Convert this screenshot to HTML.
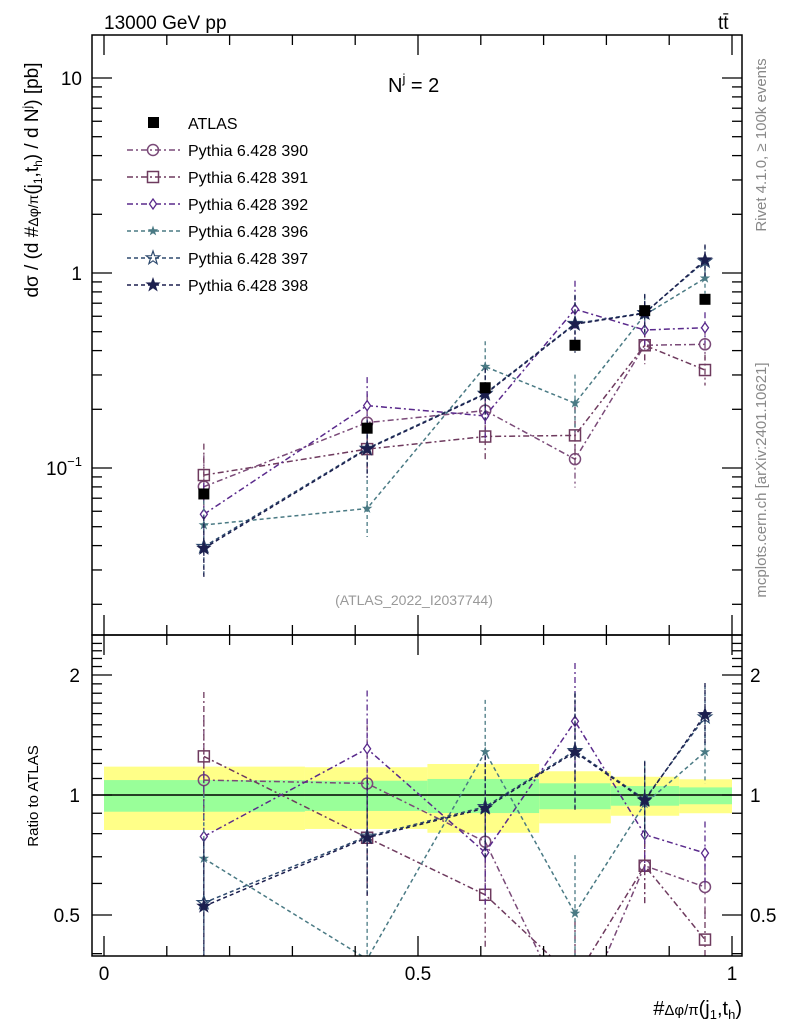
<!DOCTYPE html>
<html><head><meta charset="utf-8"><style>
html,body{margin:0;padding:0;background:#fff;width:786px;height:1024px;overflow:hidden}
svg{display:block;font-family:"Liberation Sans",sans-serif}
</style></head><body>
<svg id="chart" width="786" height="1024" viewBox="0 0 786 1024" xmlns="http://www.w3.org/2000/svg">
<defs>
<clipPath id="clipMain"><rect x="92" y="35" width="650" height="600"/></clipPath>
<clipPath id="clipRatio"><rect x="92" y="635" width="650" height="321"/></clipPath>
</defs>
<g id="bands" clip-path="url(#clipRatio)"></g>
<g id="grid"></g>
<g id="series-main" clip-path="url(#clipMain)"></g>
<g id="series-ratio" clip-path="url(#clipRatio)"></g>
<rect x="92" y="35" width="650" height="600" fill="none" stroke="#000" stroke-width="1.5"/>
<rect x="92" y="635" width="650" height="321" fill="none" stroke="#000" stroke-width="1.5"/>
<g id="axes"></g>
<g id="legend"></g>
<text x="104" y="29" font-size="19">13000 GeV pp</text>
<text x="718" y="29" font-size="19">tt̄</text>
<text x="388" y="92" font-size="20">N<tspan dy="-9" font-size="13">j</tspan><tspan dy="9"> = 2</tspan></text>
<text x="414" y="605" font-size="14" fill="#999" text-anchor="middle">(ATLAS_2022_I2037744)</text>
<text transform="translate(766,145) rotate(-90)" font-size="15" fill="#888" text-anchor="middle">Rivet 4.1.0, ≥ 100k events</text>
<text transform="translate(766,480) rotate(-90)" font-size="15" fill="#888" text-anchor="middle">mcplots.cern.ch [arXiv:2401.10621]</text>
<text transform="translate(38,180) rotate(-90)" font-size="19" text-anchor="middle">dσ / (d #<tspan font-size="14">Δφ/π</tspan>(j<tspan font-size="12" dy="4">1</tspan><tspan dy="-4">,t</tspan><tspan font-size="12" dy="4">h</tspan><tspan dy="-4">) / d N</tspan><tspan font-size="12" dy="-7">j</tspan><tspan dy="7">) [pb]</tspan></text>
<text transform="translate(38,796) rotate(-90)" font-size="15" text-anchor="middle">Ratio to ATLAS</text>
<text x="742" y="1015" font-size="20" text-anchor="end">#<tspan font-size="15">Δφ/π</tspan>(j<tspan font-size="13" dy="4">1</tspan><tspan dy="-4">,t</tspan><tspan font-size="13" dy="4">h</tspan><tspan dy="-4">)</tspan></text>
</svg>
<script>
const NS='http://www.w3.org/2000/svg';
const binEdges=[0,0.32,0.515,0.693,0.807,0.916,1.0];
const xCenters=[0.159,0.419,0.607,0.75,0.861,0.957];
const atlas=[0.0736,0.160,0.258,0.426,0.641,0.733];
const bandYellowHi=[1.178,1.174,1.196,1.147,1.111,1.095];
const bandYellowLo=[0.817,0.822,0.804,0.849,0.887,0.900];
const bandGreenHi=[1.09,1.086,1.097,1.07,1.053,1.045];
const bandGreenLo=[0.908,0.912,0.901,0.921,0.94,0.948];
const s390=[0.0802,0.171,0.197,0.111,0.426,0.431];
const s391=[0.092,0.125,0.145,0.147,0.426,0.318];
const s392=[0.0579,0.209,0.185,0.652,0.510,0.524];
const s396=[0.051,0.062,0.331,0.215,0.609,0.94];
const s397=[0.0395,0.126,0.241,0.55,0.625,1.15];
const s398=[0.0387,0.125,0.239,0.546,0.621,1.166];
const relErr=[0.45,0.4,0.35,0.4,0.25,0.2];
const seriesNames=['Pythia 6.428 390','Pythia 6.428 391','Pythia 6.428 392','Pythia 6.428 396','Pythia 6.428 397','Pythia 6.428 398'];
const seriesList=[s390,s391,s392,s396,s397,s398];
const colors=['#7a4a78','#6e3a5e','#5a2a8c','#4a7a84','#2e4a6e','#1c1f4e'];
const markers=['circle','square','diamond','smallstar','openstar','star'];
const dashes=['6,3,2,3','6,3,2,3','6,3,2,3','4,3','4,3','4,3'];
const mainTicks=[0.1,1,10];const mainTickLabels=['10','1','10'];
const ratioTicks=[0.5,1,2];const ratioTickLabels=['0.5','1','2'];
const xTicks=[0,0.5,1];const xTickLabels=['0','0.5','1'];

const X=v=>104+628*v;
const Y=v=>273-195*Math.log10(v);
const R=v=>795-398.7*Math.log10(v);
function el(tag,attrs,parent){const e=document.createElementNS(NS,tag);for(const k in attrs)e.setAttribute(k,attrs[k]);parent.appendChild(e);return e;}
const gB=document.getElementById('bands'),gA=document.getElementById('axes'),gM=document.getElementById('series-main'),gR=document.getElementById('series-ratio'),gL=document.getElementById('legend');
for(let i=0;i<6;i++){
 const x0=X(binEdges[i]),x1=X(binEdges[i+1]);
 const y=el('rect',{x:x0,y:R(bandYellowHi[i]),width:x1-x0,height:R(bandYellowLo[i])-R(bandYellowHi[i]),fill:'#ffff88'},gB);
 
 
 const g=el('rect',{x:x0,y:R(bandGreenHi[i]),width:x1-x0,height:R(bandGreenLo[i])-R(bandGreenHi[i]),fill:'#99ff99'},gB);
 
 
}
const one=el('line',{x1:92,x2:742,y1:R(1),y2:R(1),stroke:'#000','stroke-width':1.5},gB);


function tick(x1,y1,x2,y2){el('line',{x1,y1,x2,y2,stroke:'#000','stroke-width':1.3},gA);}
for(let d=-2;d<=1;d++)for(let m=1;m<10;m++){const v=m*Math.pow(10,d);const y=Y(v);if(y<35||y>635)continue;const L=m==1?20:10;tick(92,y,92+L,y);tick(742,y,742-L,y);}
mainTicks.forEach((v,i)=>{const t=el('text',{x:82,y:Y(v)+7,'font-size':19,'text-anchor':'end'},gA);t.textContent=mainTickLabels[i];if(v<1){const s=el('tspan',{dy:-9,'font-size':13},t);s.textContent='−1';}
 
 });
for(let v=0.4;v<=2.5;v+=0.1){const y=R(v);if(y<635||y>956)continue;const major=Math.abs(v-0.5)<1e-6||Math.abs(v-1)<1e-6||Math.abs(v-2)<1e-6;const L=major?20:10;tick(92,y,92+L,y);tick(742,y,742-L,y);}
ratioTicks.forEach((v,i)=>{for(const side of [0,1]){const t=el('text',{x:side?750:80,y:R(v)+7,'font-size':19,'text-anchor':side?'start':'end'},gA);t.textContent=ratioTickLabels[i];
 
 }});
for(let k=0;k<=10;k++){const x=X(k/10);const L=(k%5==0)?20:10;tick(x,956,x,956-L);tick(x,635,x,635-L);tick(x,635,x,635+L);tick(x,35,x,35+L);}
xTicks.forEach((v,i)=>{const t=el('text',{x:X(v),y:980,'font-size':19,'text-anchor':'middle'},gA);t.textContent=xTickLabels[i];
 
 });
function starPts(cx,cy,ro,ri){let p=[];for(let k=0;k<10;k++){const a=-Math.PI/2+k*Math.PI/5;const r=k%2?ri:ro;p.push((cx+r*Math.cos(a)).toFixed(1)+','+(cy+r*Math.sin(a)).toFixed(1));}return p.join(' ');}
function marker(type,cx,cy,col,parent){
 if(type=='circle')return el('circle',{cx,cy,r:5.5,fill:'#fff','fill-opacity':0,stroke:col,'stroke-width':1.5},parent);
 if(type=='square')return el('rect',{x:cx-5.5,y:cy-5.5,width:11,height:11,fill:'none',stroke:col,'stroke-width':1.5},parent);
 if(type=='diamond')return el('polygon',{points:`${cx},${cy-5} ${cx+3.5},${cy} ${cx},${cy+5} ${cx-3.5},${cy}`,fill:'#fff',stroke:col,'stroke-width':1.3},parent);
 if(type=='smallstar')return el('polygon',{points:starPts(cx,cy,5.5,2.2),fill:col},parent);
 if(type=='openstar')return el('polygon',{points:starPts(cx,cy,7,2.8),fill:'none',stroke:col,'stroke-width':1.2},parent);
 if(type=='star')return el('polygon',{points:starPts(cx,cy,8,3.2),fill:col},parent);
 if(type=='atlas')return el('rect',{x:cx-5.5,y:cy-5.5,width:11,height:11,fill:'#000'},parent);
}
function drawSeries(vals,ratio,idx,parent,Yf){
 const col=colors[idx];
 const pts=vals.map((v,i)=>X(xCenters[i]).toFixed(1)+','+Yf(ratio?v/atlas[i]:v).toFixed(1)).join(' ');
 const pl=el('polyline',{points:pts,fill:'none',stroke:col,'stroke-width':1.5,'stroke-dasharray':dashes[idx]},parent);
 
 
 vals.forEach((v,i)=>{const c=ratio?v/atlas[i]:v;const x=X(xCenters[i]);
  const eb=el('line',{x1:x,x2:x,y1:Yf(c*(1+relErr[i])),y2:Yf(c/(1+relErr[i])),stroke:col,'stroke-width':1.3,'stroke-dasharray':dashes[idx]},parent);
  
  
  const m=marker(markers[idx],x,Yf(c),col,parent);
  
  });
}
seriesList.forEach((s,i)=>{drawSeries(s,false,i,gM,Y);drawSeries(s,true,i,gR,R);});
atlas.forEach((v,i)=>{const m=marker('atlas',X(xCenters[i]),Y(v),'#000',gM);
 
 });
const lg0=el('rect',{x:148,y:117,width:11,height:11,fill:'#000'},gL);


const lt0=el('text',{x:188,y:129,'font-size':16},gL);lt0.textContent='ATLAS';


seriesNames.forEach((n,i)=>{const y=150+i*27;
 el('line',{x1:127,x2:180,y1:y,y2:y,stroke:colors[i],'stroke-width':1.5,'stroke-dasharray':dashes[i]},gL);
 marker(markers[i],153,y,colors[i],gL);
 const t=el('text',{x:188,y:y+6,'font-size':16},gL);t.textContent=n;
 
 });
</script>
</body></html>
